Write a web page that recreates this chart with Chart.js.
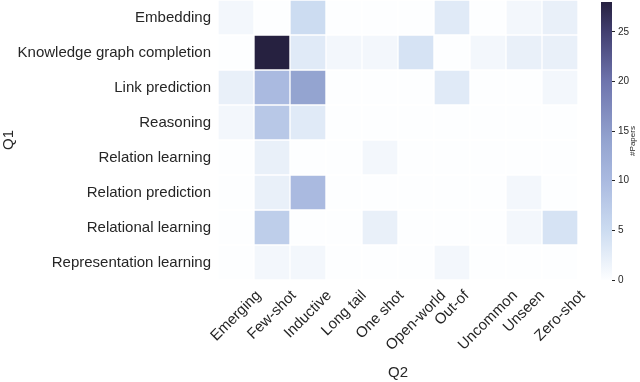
<!DOCTYPE html>
<html>
<head>
<meta charset="utf-8">
<script src="https://cdn.jsdelivr.net/npm/chart.js@4"></script>
<style>
  html, body { margin: 0; padding: 0; background: #fff; }
  #wrap { position: relative; width: 640px; height: 382px; }
  #heatmap { position: absolute; left: 0; top: 0; }
  #colorbar { position: absolute; left: 590px; top: 0; }
</style>
</head>
<body>
<div id="wrap">
  <canvas id="heatmap" width="640" height="382"></canvas>
  <canvas id="colorbar" width="50" height="382"></canvas>
</div>
<script>
// Rows (Q1) and columns (Q2)
const Q1_LABELS = ['Embedding', 'Knowledge graph completion', 'Link prediction', 'Reasoning',
    'Relation learning', 'Relation prediction', 'Relational learning', 'Representation learning'];
const Q2_LABELS = ['Emerging', 'Few-shot', 'Inductive', 'Long tail', 'One shot',
    'Open-world', 'Out-of', 'Uncommon', 'Unseen', 'Zero-shot'];

// #Papers per cell, one array per Q1 row
const embedding = [1, 0, 5, 0, 0, 0, 3, 0, 1, 2];
const kgCompletion = [0, 28, 3, 1, 1, 4, 0, 1, 2, 2];
const linkPrediction = [2, 10, 14, 0, 0, 0, 3, 0, 0, 1];
const reasoning = [1, 8, 3, 0, 0, 0, 0, 0, 0, 0];
const relationLearning = [0, 2, 0, 0, 1, 0, 0, 0, 0, 0];
const relationPrediction = [0, 2, 10, 0, 0, 0, 0, 0, 1, 0];
const relationalLearning = [0, 7, 0, 0, 2, 0, 0, 0, 1, 4];
const representationLearning = [0, 1, 1, 0, 0, 0, 1, 0, 0, 0];
const COUNTS = [embedding, kgCompletion, linkPrediction, reasoning,
    relationLearning, relationPrediction, relationalLearning, representationLearning];

// colour bar range and ticks
const CBAR_MIN = 0;
const CBAR_MAX = 28;
const CBAR_TICKS = [0, 5, 10, 15, 20, 25];

const FONT = '"Liberation Sans", Arial, Helvetica, sans-serif';
const TEXT = '#262626';

// colormap stops (value, rgb)
const STOPS = [
    [0, [253, 254, 255]],
    [5, [204, 220, 241]],
    [10, [170, 186, 224]],
    [14, [148, 164, 208]],
    [20, [110, 116, 173]],
    [25, [66, 63, 112]],
    [28, [38, 33, 64]]
];

function colorFor(v) {
    if (v <= STOPS[0][0]) return rgb(STOPS[0][1]);
    for (let i = 1; i < STOPS.length; i++) {
        if (v <= STOPS[i][0]) {
            const [v0, c0] = STOPS[i - 1];
            const [v1, c1] = STOPS[i];
            const t = (v - v0) / (v1 - v0);
            return rgb(c0.map((c, k) => Math.round(c + (c1[k] - c) * t)));
        }
    }
    return rgb(STOPS[STOPS.length - 1][1]);
}

function rgb(c) {
    return 'rgb(' + c[0] + ',' + c[1] + ',' + c[2] + ')';
}

// one floating-bar dataset per row, spanning [row-0.5, row+0.5]
const datasets = COUNTS.map((row, r) => ({
    label: Q1_LABELS[r],
    data: row.map(() => [r - 0.5, r + 0.5]),
    backgroundColor: row.map(colorFor),
    borderColor: '#ffffff',
    borderWidth: 1,
    borderSkipped: false,
    grouped: false,
    barPercentage: 1,
    categoryPercentage: 1
}));

// rotated x labels centred on their tick (matplotlib style)
const xLabelPlugin = {
    id: 'xLabels',
    afterDraw(chart) {
        const ctx = chart.ctx;
        const xs = chart.scales.x;
        ctx.save();
        ctx.font = '15px ' + FONT;
        ctx.fillStyle = TEXT;
        ctx.textAlign = 'center';
        ctx.textBaseline = 'middle';
        Q2_LABELS.forEach((lab, i) => {
            const w = ctx.measureText(lab).width;
            const h = 12;
            const x = xs.getPixelForTick(i);
            const y = xs.top + 9 + (w + h) * Math.SQRT1_2 / 2;
            ctx.save();
            ctx.translate(x, y);
            ctx.rotate(-Math.PI / 4);
            ctx.fillText(lab, 0, 0);
            ctx.restore();
        });
        ctx.restore();
    }
};

new Chart(document.getElementById('heatmap').getContext('2d'), {
    type: 'bar',
    data: { labels: Q2_LABELS, datasets: datasets },
    options: {
        responsive: false,
        animation: false,
        layout: { padding: { top: 0, right: 62, bottom: 0, left: 0 } },
        plugins: { legend: { display: false }, tooltip: { enabled: false } },
        scales: {
            x: {
                type: 'category',
                grid: { display: false, drawTicks: false },
                border: { display: false },
                ticks: { display: false },
                title: { display: true, text: 'Q2', color: TEXT, font: { family: FONT, size: 15 }, padding: 0 },
                afterFit(scale) { scale.height = 102; scale.paddingLeft = 0; scale.paddingRight = 0; }
            },
            y: {
                type: 'linear',
                min: -0.5,
                max: 7.5,
                reverse: true,
                grid: { display: false, drawTicks: false },
                border: { display: false },
                afterBuildTicks(scale) {
                    scale.ticks = Q1_LABELS.map((_, i) => ({ value: i }));
                },
                ticks: {
                    padding: 7,
                    color: TEXT,
                    font: { family: FONT, size: 15 },
                    callback: (v) => Q1_LABELS[v]
                },
                title: { display: true, text: 'Q1', color: TEXT, font: { family: FONT, size: 15 }, padding: 0 },
                afterFit(scale) { scale.width = 218; scale.paddingTop = 0; scale.paddingBottom = 0; }
            }
        }
    },
    plugins: [xLabelPlugin]
});

// colour bar: one floating bar from min to max filled with the colormap
const cbarTitlePlugin = {
    id: 'cbarTitle',
    afterDraw(chart) {
        const ctx = chart.ctx;
        const ys = chart.scales.y;
        ctx.save();
        ctx.font = '8px ' + FONT;
        ctx.fillStyle = TEXT;
        ctx.textAlign = 'center';
        ctx.textBaseline = 'middle';
        ctx.translate(43, (ys.top + ys.bottom) / 2);
        ctx.rotate(-Math.PI / 2);
        ctx.fillText('#Papers', 0, 0);
        ctx.restore();
    }
};

new Chart(document.getElementById('colorbar').getContext('2d'), {
    type: 'bar',
    data: {
        labels: ['#Papers'],
        datasets: [{
            data: [[CBAR_MIN, CBAR_MAX]],
            backgroundColor(context) {
                const chart = context.chart;
                const ys = chart.scales.y;
                if (!chart.chartArea || !ys) return null;
                const g = chart.ctx.createLinearGradient(0, ys.getPixelForValue(CBAR_MIN), 0, ys.getPixelForValue(CBAR_MAX));
                STOPS.forEach(([v]) => g.addColorStop((v - CBAR_MIN) / (CBAR_MAX - CBAR_MIN), colorFor(v)));
                return g;
            },
            borderWidth: 0,
            barPercentage: 1,
            categoryPercentage: 1
        }]
    },
    options: {
        responsive: false,
        animation: false,
        layout: { padding: { top: 2, right: 0, bottom: 0, left: 11 } },
        plugins: { legend: { display: false }, tooltip: { enabled: false } },
        scales: {
            x: {
                display: true,
                grid: { display: false, drawTicks: false },
                border: { display: false },
                ticks: { display: false },
                afterFit(scale) { scale.height = 102; scale.paddingLeft = 0; scale.paddingRight = 0; }
            },
            y: {
                position: 'right',
                min: CBAR_MIN,
                max: CBAR_MAX,
                afterBuildTicks(scale) {
                    scale.ticks = CBAR_TICKS.map((v) => ({ value: v }));
                },
                grid: { drawOnChartArea: false, drawTicks: true, tickLength: 3, color: TEXT },
                border: { display: false },
                ticks: { padding: 3, color: TEXT, font: { family: FONT, size: 10 } },
                afterFit(scale) { scale.width = 28; scale.paddingTop = 0; scale.paddingBottom = 0; }
            }
        }
    },
    plugins: [cbarTitlePlugin]
});
</script>
</body>
</html>
